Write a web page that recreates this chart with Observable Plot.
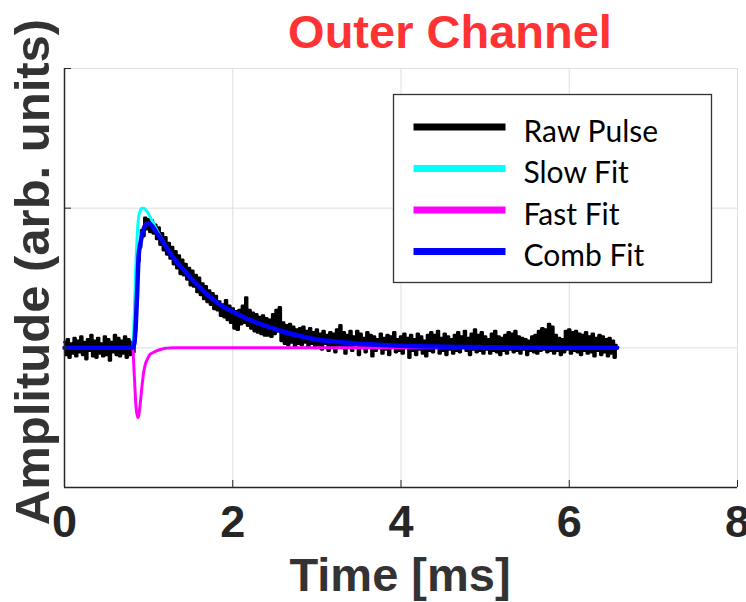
<!DOCTYPE html>
<html>
<head>
<meta charset="utf-8">
<script src="https://cdn.jsdelivr.net/npm/d3@7"></script>
<script src="https://cdn.jsdelivr.net/npm/@observablehq/plot@0.6"></script>
<style>
html, body { margin: 0; padding: 0; background: #fff; }
#wrap { position: relative; width: 746px; height: 602px; overflow: hidden; }
</style>
</head>
<body>
<div id="wrap"></div>
<script>
// ---------------- data ----------------
const titleText = "Outer Channel";
const xLabel = "Time [ms]";
const yLabel = "Amplitude (arb. units)";
const xTicks = [0, 2, 4, 6, 8];
const yTicks = [-1, 0, 1, 2];
const seriesNames = ["Raw Pulse", "Slow Fit", "Fast Fit", "Comb Fit"];

// raw pulse, sampled every 0.02 ms from t = 0
const rawStepMs = 0.02;
const rawPulse = [
  0.04, -0.05, 0.06, -0.07, 0.03, -0.04, 0.07, -0.06, 0.05, -0.03,
  0.08, -0.05, 0.04, -0.08, 0.06, -0.02, 0.09, -0.06, 0.05, -0.07,
  0.07, -0.04, 0.03, -0.06, 0.08, -0.05, 0.06, -0.09, 0.04, -0.03,
  0.09, -0.05, 0.07, -0.06, 0.05, -0.04, 0.08, -0.07, 0.06, -0.05,
  0.04, -0.03, 0.12, 0.35, 0.62, 0.72, 0.84, 0.80, 0.93, 0.85,
  0.92, 0.83, 0.91, 0.82, 0.88, 0.78, 0.86, 0.74, 0.82, 0.70,
  0.79, 0.67, 0.75, 0.64, 0.72, 0.60, 0.69, 0.57, 0.66, 0.53,
  0.63, 0.52, 0.60, 0.49, 0.57, 0.45, 0.55, 0.44, 0.52, 0.40,
  0.50, 0.38, 0.46, 0.35, 0.44, 0.33, 0.41, 0.31, 0.39, 0.28,
  0.37, 0.27, 0.33, 0.23, 0.31, 0.22, 0.34, 0.20, 0.30, 0.18,
  0.28, 0.14, 0.26, 0.13, 0.27, 0.17, 0.30, 0.18, 0.36, 0.16,
  0.27, 0.14, 0.25, 0.12, 0.24, 0.11, 0.22, 0.10, 0.23, 0.09,
  0.21, 0.09, 0.20, 0.08, 0.24, 0.10, 0.27, 0.12, 0.29, 0.05,
  0.18, 0.03, 0.16, 0.02, 0.17, 0.04, 0.15, 0.01, 0.13, 0.03,
  0.14, 0.02, 0.15, 0.04, 0.12, 0.01, 0.14, 0.03, 0.11, 0.00,
  0.13, 0.02, 0.10, -0.01, 0.12, 0.03, 0.09, -0.02, 0.11, 0.01,
  0.10, -0.03, 0.13, 0.02, 0.16, 0.00, 0.11, -0.04, 0.09, 0.01,
  0.12, -0.02, 0.08, 0.02, 0.12, -0.05, 0.10, 0.00, 0.07, -0.03,
  0.11, 0.01, 0.09, -0.06, 0.08, -0.02, 0.06, 0.00, 0.10, -0.04,
  0.07, -0.01, 0.09, -0.05, 0.08, 0.01, 0.11, -0.03, 0.06, -0.02,
  0.08, -0.04, 0.10, 0.00, 0.07, -0.07, 0.09, -0.02, 0.06, -0.05,
  0.10, -0.01, 0.08, -0.04, 0.05, -0.06, 0.09, -0.02, 0.11, -0.03,
  0.09, 0.00, 0.12, -0.04, 0.07, -0.02, 0.10, -0.05, 0.08, -0.01,
  0.06, -0.04, 0.09, -0.02, 0.11, -0.03, 0.08, 0.00, 0.12, -0.02,
  0.07, -0.05, 0.10, -0.01, 0.13, -0.03, 0.09, -0.02, 0.11, -0.04,
  0.08, -0.01, 0.06, -0.04, 0.10, -0.02, 0.12, -0.03, 0.08, -0.05,
  0.07, -0.02, 0.09, -0.04, 0.11, -0.01, 0.10, -0.03, 0.12, -0.02,
  0.08, -0.04, 0.07, -0.01, 0.06, -0.05, 0.05, -0.02, 0.08, -0.03,
  0.09, -0.04, 0.12, -0.02, 0.14, -0.01, 0.13, -0.03, 0.17, -0.02,
  0.15, -0.04, 0.09, -0.02, 0.07, -0.05, 0.06, -0.03, 0.12, -0.01,
  0.13, -0.04, 0.11, -0.02, 0.12, -0.03, 0.10, -0.05, 0.09, -0.02,
  0.11, -0.04, 0.08, -0.03, 0.10, -0.06, 0.07, -0.02, 0.09, -0.05,
  0.08, -0.03, 0.06, -0.06, 0.07, -0.04, 0.05, -0.07, 0.02
];

// fitted curves, read at these times (ms)
const fitTime = [
  0, 0.81, 0.83, 0.85, 0.87, 0.88, 0.90, 0.92, 0.94, 0.96,
  0.99, 1.02, 1.05, 1.10, 1.15, 1.20, 1.30, 1.40, 1.50, 1.60,
  1.70, 1.80, 1.90, 2.00, 2.20, 2.40, 2.60, 2.80, 3.00, 3.20,
  3.50, 4.00, 4.50, 5.00, 5.50, 6.00, 6.57
];
const slowFit = [
  0, 0, 0.25, 0.62, 0.86, 0.93, 0.98, 1.00, 1.00, 0.99,
  0.97, 0.935, 0.90, 0.84, 0.785, 0.735, 0.64, 0.57, 0.50, 0.44,
  0.38, 0.33, 0.29, 0.26, 0.20, 0.155, 0.115, 0.085, 0.06, 0.045,
  0.03, 0.015, 0.008, 0.004, 0.002, 0.001, 0
];
const fastFit = [
  0, 0, -0.20, -0.42, -0.50, -0.49, -0.40, -0.28, -0.18, -0.12,
  -0.075, -0.045, -0.035, -0.02, -0.01, -0.003, 0, 0, 0, 0,
  0, 0, 0, 0, 0, 0, 0, 0, 0, 0,
  0, 0, 0, 0, 0, 0, 0
];
const combFit = [
  0, 0, 0.03, 0.20, 0.50, 0.65, 0.74, 0.80, 0.85, 0.88,
  0.89, 0.885, 0.865, 0.82, 0.775, 0.73, 0.64, 0.57, 0.50, 0.44,
  0.38, 0.33, 0.29, 0.26, 0.20, 0.155, 0.115, 0.085, 0.06, 0.045,
  0.03, 0.015, 0.008, 0.004, 0.002, 0.001, 0
];

// ---------------- styles ----------------
const seriesColor = { "Raw Pulse": "#000000", "Slow Fit": "#00ffff", "Fast Fit": "#ff00ff", "Comb Fit": "#0000ff" };
const seriesWidth = { "Raw Pulse": 2.8, "Slow Fit": 3, "Fast Fit": 3, "Comb Fit": 4.5 };
const axisColor = "#262626";
const gridColor = "#dedede";
const boldFont = "'Liberation Sans', Arial, Helvetica, sans-serif";

// ---------------- build ----------------
const rawData = rawPulse.map((v, i) => ({ t: i * rawStepMs, v }));
const fitSeries = { "Slow Fit": slowFit, "Fast Fit": fastFit, "Comb Fit": combFit };
const fitData = {};
for (const name of Object.keys(fitSeries)) {
  fitData[name] = fitTime.map((t, i) => ({ t, v: fitSeries[name][i] }));
}

const chart = Plot.plot({
  width: 746,
  height: 602,
  marginLeft: 64,
  marginRight: 9,
  marginTop: 68,
  marginBottom: 115,
  style: { fontFamily: boldFont, background: "#ffffff", overflow: "visible" },
  x: { domain: [xTicks[0], xTicks[xTicks.length - 1]], label: null },
  y: { domain: [yTicks[0], yTicks[yTicks.length - 1]], label: null },
  marks: [
    Plot.gridX(xTicks, { stroke: gridColor, strokeOpacity: 1, strokeWidth: 1 }),
    Plot.gridY(yTicks, { stroke: gridColor, strokeOpacity: 1, strokeWidth: 1 }),
    Plot.line(rawData, { x: "t", y: "v", stroke: seriesColor["Raw Pulse"], strokeWidth: seriesWidth["Raw Pulse"], curve: "step" }),
    Plot.line(fitData["Slow Fit"], { x: "t", y: "v", stroke: seriesColor["Slow Fit"], strokeWidth: seriesWidth["Slow Fit"], curve: "monotone-x" }),
    Plot.line(fitData["Fast Fit"], { x: "t", y: "v", stroke: seriesColor["Fast Fit"], strokeWidth: seriesWidth["Fast Fit"], curve: "monotone-x" }),
    Plot.line(fitData["Comb Fit"], { x: "t", y: "v", stroke: seriesColor["Comb Fit"], strokeWidth: seriesWidth["Comb Fit"], curve: "monotone-x" }),
    Plot.ruleX([xTicks[0]], { stroke: axisColor, strokeWidth: 1.5 }),
    Plot.ruleY([yTicks[0]], { stroke: axisColor, strokeWidth: 1.5 }),
    Plot.axisX(xTicks, { tickSize: -7, tickFormat: () => "", color: axisColor, label: null }),
    Plot.axisX(xTicks, { tickSize: 0, tickPadding: 18, fontSize: 45, fontWeight: "bold", color: axisColor, label: null }),
    Plot.axisY(yTicks, { tickSize: -7, tickFormat: () => "", color: axisColor, label: null })
  ]
});

document.getElementById("wrap").appendChild(chart);

const svg = d3.select(chart);

// title
svg.append("text")
  .attr("x", 450).attr("y", 48)
  .attr("text-anchor", "middle")
  .style("font-family", boldFont).style("font-weight", "bold").style("font-size", "47px")
  .attr("fill", "#ff3333")
  .text(titleText);

// x label
svg.append("text")
  .attr("x", 400).attr("y", 591)
  .attr("text-anchor", "middle")
  .style("font-family", boldFont).style("font-weight", "bold").style("font-size", "47px")
  .attr("fill", "#333333")
  .text(xLabel);

// y label
svg.append("text")
  .attr("transform", "translate(49,272) rotate(-90)")
  .attr("text-anchor", "middle")
  .style("font-family", boldFont).style("font-weight", "bold").style("font-size", "49px")
  .attr("fill", "#333333")
  .text(yLabel);

// legend
const lg = svg.append("g").attr("transform", "translate(393.5,94.5)");
lg.append("rect").attr("width", 318).attr("height", 188)
  .attr("fill", "#ffffff").attr("stroke", "#333333").attr("stroke-width", 1.3);
seriesNames.forEach((name, i) => {
  const y = 32.5 + i * 41.5;
  lg.append("line").attr("x1", 20).attr("x2", 112).attr("y1", y).attr("y2", y)
    .attr("stroke", seriesColor[name]).attr("stroke-width", 7);
  lg.append("text").attr("x", 130).attr("y", y + 14.5)
    .attr("text-anchor", "start")
    .style("font-family", "Lato, 'Open Sans', sans-serif").style("font-size", "30px")
    .attr("fill", "#000000")
    .text(name);
});
</script>
</body>
</html>
